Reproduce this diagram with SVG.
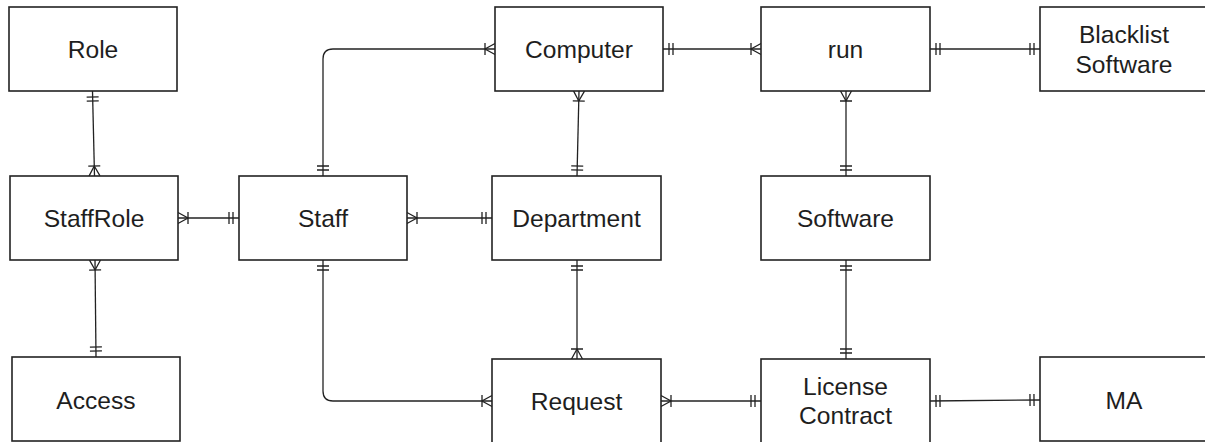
<svg xmlns="http://www.w3.org/2000/svg" width="1205" height="442" viewBox="0 0 1205 442">
<style>
.box{fill:#fff;stroke:#222;stroke-width:1.6}
.lbl{font-family:"Liberation Sans",Arial,sans-serif;font-size:24.6px;fill:#1e1e1e;text-anchor:middle;dominant-baseline:central}
.c{fill:none;stroke:#222;stroke-width:1.3}
.one{marker-start:url(#mOne)}
.many{marker-start:url(#mMany)}
.eone{marker-end:url(#mOne)}
.emany{marker-end:url(#mMany)}
</style>
<defs>
<marker id="mOne" viewBox="0 0 20 20" refX="20" refY="10" markerWidth="20" markerHeight="20" markerUnits="userSpaceOnUse" orient="auto-start-reverse" overflow="visible">
<path d="M14,4 L14,16 M10,4 L10,16" fill="none" stroke="#222" stroke-width="1.3"/>
</marker>
<marker id="mMany" viewBox="0 0 20 20" refX="20" refY="10" markerWidth="20" markerHeight="20" markerUnits="userSpaceOnUse" orient="auto-start-reverse" overflow="visible">
<path d="M20,4.5 L10,10 L20,15.5 M10,4 L10,16" fill="none" stroke="#222" stroke-width="1.3"/>
</marker>
</defs>
<rect width="1205" height="442" fill="#fff"/>
<g id="connectors">
<path class="c one emany" d="M92.5,91 L94.5,176"/>
<path class="c many eone" d="M95,260 L96,357"/>
<path class="c many eone" d="M178,218 L239,218"/>
<path class="c one emany" d="M323,176 L323,59 Q323,49 333,49 L495,49"/>
<path class="c many eone" d="M407,218 L492,218"/>
<path class="c one emany" d="M323,260 L323,391 Q323,401 333,401 L492,401"/>
<path class="c one emany" d="M663,49 L761,49"/>
<path class="c many eone" d="M579,91 L577,176"/>
<path class="c one emany" d="M577,260 L577,359"/>
<path class="c one eone" d="M930,49 L1040,49"/>
<path class="c many eone" d="M846,91 L846,176"/>
<path class="c one eone" d="M846,260 L846,359"/>
<path class="c many eone" d="M661,401 L761,401"/>
<path class="c one eone" d="M930,401 L1040,400"/>
</g>
<g id="role"><rect class="box" x="9" y="7" width="168" height="84"/><text class="lbl" x="93" y="49">Role</text></g>
<g id="staffrole"><rect class="box" x="10" y="176" width="168" height="84"/><text class="lbl" x="94" y="218">StaffRole</text></g>
<g id="access"><rect class="box" x="12" y="357" width="168" height="84"/><text class="lbl" x="96" y="400">Access</text></g>
<g id="staff"><rect class="box" x="239" y="176" width="168" height="84"/><text class="lbl" x="323" y="218">Staff</text></g>
<g id="computer"><rect class="box" x="495" y="7" width="168" height="84"/><text class="lbl" x="579" y="49">Computer</text></g>
<g id="department"><rect class="box" x="492" y="176" width="169" height="84"/><text class="lbl" x="576.5" y="218">Department</text></g>
<g id="request"><rect class="box" x="492" y="359" width="169" height="84"/><text class="lbl" x="576.5" y="401">Request</text></g>
<g id="run"><rect class="box" x="761" y="7" width="169" height="84"/><text class="lbl" x="845.5" y="49">run</text></g>
<g id="software"><rect class="box" x="761" y="176" width="169" height="84"/><text class="lbl" x="845.5" y="218">Software</text></g>
<g id="license"><rect class="box" x="761" y="359" width="169" height="84"/><text class="lbl" x="845.5" y="386">License</text><text class="lbl" x="845.5" y="415">Contract</text></g>
<g id="blacklist"><rect class="box" x="1040" y="7" width="168" height="84"/><text class="lbl" x="1124" y="34">Blacklist</text><text class="lbl" x="1124" y="64">Software</text></g>
<g id="ma"><rect class="box" x="1040" y="357" width="168" height="84"/><text class="lbl" x="1124" y="400">MA</text></g>
</svg>
